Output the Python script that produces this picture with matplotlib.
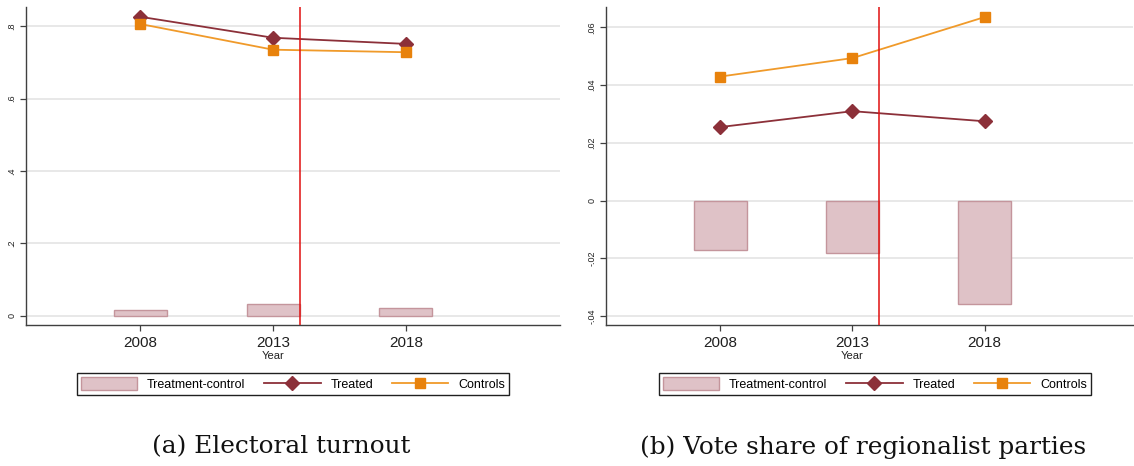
import numpy as np
import matplotlib.pyplot as plt
from matplotlib.patches import Patch
from matplotlib.lines import Line2D

plt.rcParams['font.family'] = ['Liberation Sans', 'DejaVu Sans']

years = [2008, 2013, 2018]

# (a) electoral turnout
turnout_treated = [0.826, 0.768, 0.751]
turnout_controls = [0.806, 0.735, 0.728]
turnout_diff = [0.016, 0.032, 0.022]

# (b) vote share of regionalist parties
regional_treated = [0.0255, 0.0310, 0.0275]
regional_controls = [0.0430, 0.0494, 0.0636]
regional_diff = [-0.0172, -0.0182, -0.0357]

yticks_a = [0, 0.2, 0.4, 0.6, 0.8]
ylabels_a = ['0', '.2', '.4', '.6', '.8']
yticks_b = [-0.04, -0.02, 0, 0.02, 0.04, 0.06]
ylabels_b = ['-.04', '-.02', '0', '.02', '.04', '.06']

treated_col = '#8C3039'
controls_col = '#E8820C'
controls_line = '#F09A2A'
bar_fill = '#DFC2C7'
bar_edge = '#C4959C'
grid_col = '#E6E6E6'
spine_col = '#404040'

W, H = 1134, 466
fig = plt.figure(figsize=(W / 100, H / 100), dpi=100)


def r(x0, y0, x1, y1):
    return [x0 / W, 1 - y1 / H, (x1 - x0) / W, (y1 - y0) / H]


def panel(rect, xlim, treated, controls, diff, yticks, ylabels, ylim, caption, leg_x, cap_x):
    ax = fig.add_axes(rect)
    for y in yticks:
        ax.axhline(y, color=grid_col, lw=1.3, zorder=0)
    ax.bar(years, diff, width=2, color=bar_fill, edgecolor=bar_edge, lw=1.0, zorder=2)
    ax.plot(years, treated, color=treated_col, lw=1.3, marker='D', ms=7.5,
            mfc=treated_col, mec=treated_col, zorder=3)
    ax.plot(years, controls, color=controls_line, lw=1.3, marker='s', ms=6.5,
            mfc=controls_col, mec=controls_col, zorder=3)
    ax.axvline(2014, color='#E01010', lw=1.1, zorder=4)
    ax.set_xlim(*xlim)
    ax.set_ylim(*ylim)
    ax.set_xticks(years)
    ax.set_xticklabels([str(y) for y in years], fontsize=11)
    ax.set_yticks(yticks)
    ax.set_yticklabels(ylabels, fontsize=6.5, rotation=90, va='center')
    ax.tick_params(axis='both', colors=spine_col, labelcolor='#202020', length=4, width=0.9)
    ax.tick_params(axis='x', pad=4)
    ax.tick_params(axis='y', pad=3)
    for s in ['top', 'right']:
        ax.spines[s].set_visible(False)
    for s in ['left', 'bottom']:
        ax.spines[s].set_color(spine_col)
        ax.spines[s].set_linewidth(1.0)
    # "Year" title sits just under the middle tick label
    xmid = ax.transData.transform((2013, 0))[0] / W
    fig.text(xmid, 1 - 356 / H, 'Year', fontsize=8, ha='center', va='center', color='#202020')

    handles = [Patch(facecolor=bar_fill, edgecolor=bar_edge, lw=1.0),
               Line2D([], [], color=treated_col, lw=1.3, marker='D', ms=7.5),
               Line2D([], [], color=controls_line, lw=1.3, marker='s', ms=6.5,
                      mfc=controls_col, mec=controls_col)]
    labels = ['Treatment-control', 'Treated', 'Controls']
    fig.legend(handles, labels, loc='center', bbox_to_anchor=(leg_x, 1 - 384 / H),
               ncol=3, frameon=True, fancybox=False, fontsize=9,
               edgecolor='#202020', handlelength=4.5, handleheight=1.2,
               columnspacing=1.5, borderpad=0.3, handletextpad=0.8,
               framealpha=1).get_frame().set_linewidth(1.0)
    fig.text(cap_x, 1 - 447 / H, caption, fontsize=17.8, family='DejaVu Serif',
             ha='center', va='center', color='#111111')
    return ax


panel(r(26, 7, 560, 325), (2003.7, 2023.8), turnout_treated, turnout_controls, turnout_diff,
      yticks_a, ylabels_a, (-0.026, 0.853), '(a) Electoral turnout', 293 / W, 281 / W)
panel(r(606, 7, 1133, 325), (2003.67, 2023.62), regional_treated, regional_controls, regional_diff,
      yticks_b, ylabels_b, (-0.0431, 0.0671), '(b) Vote share of regionalist parties',
      875 / W, 863 / W)

fig.savefig('out.png', dpi=100)
